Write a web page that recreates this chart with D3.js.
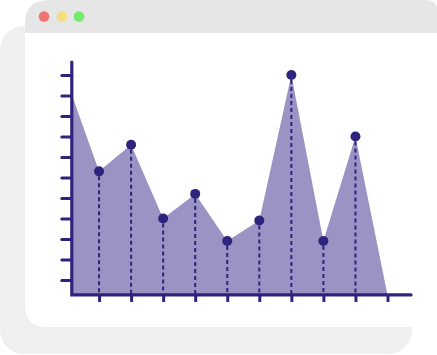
<!DOCTYPE html>
<html>
<head>
<meta charset="utf-8">
<script src="https://cdn.jsdelivr.net/npm/d3@7"></script>
<style>
  html, body { margin: 0; padding: 0; background: #fff; }
  svg { display: block; }
</style>
</head>
<body>
<div id="chart"></div>
<script>
"use strict";

// == DATA ==
var categories = [0, 1, 2, 3, 4, 5, 6, 7, 8, 9, 10];
var values = [10.7, 6.3, 7.6, 4.0, 5.2, 2.9, 3.9, 11.0, 2.9, 8.0, 0.27];
var xTicks = [1, 2, 3, 4, 5, 6, 7, 8, 9, 10];
var yTicks = [1, 2, 3, 4, 5, 6, 7, 8, 9, 10, 11];
var baseValue = 0.27;

// == BOILERPLATE ==
var width = 437, height = 355;
var dark = "#2f247d", fillColor = "#9a93c4";

var svg = d3.select("#chart")
  .append("svg")
  .attr("width", width)
  .attr("height", height);

// browser window frame
svg.append("rect")
  .attr("x", 0).attr("y", 26).attr("width", 412).attr("height", 328)
  .attr("rx", 24).attr("fill", "#efefef");

svg.append("path")
  .attr("d", "M25,327 L25,24 Q25,0 49,0 L427,0 Q437,0 437,10 L437,327 L47,327 Q25,327 25,305 Z")
  .attr("fill", "#fff");
svg.append("path")
  .attr("d", "M25,33 L25,24 Q25,0 49,0 L427,0 Q437,0 437,10 L437,33 Z")
  .attr("fill", "#e6e6e6");

var lights = [["#f07474", 44], ["#f4de7e", 62], ["#74ea6c", 79]];
svg.selectAll("circle.light")
  .data(lights)
  .enter()
  .append("circle")
  .attr("class", "light")
  .attr("cx", function (d) { return d[1]; })
  .attr("cy", 16.5)
  .attr("r", 5.3)
  .attr("fill", function (d) { return d[0]; });

// == SCALES ==
var xScale = d3.scaleLinear().domain([0, 10]).range([67, 387.5]);
var yScale = d3.scaleLinear().domain([0, 11]).range([300.5, 75]);

var axisX = 71.8;
var axisY = yScale(baseValue);
var xEnd = 411;
var yTop = 62;

svg.append("clipPath").attr("id", "plotclip")
  .append("rect")
  .attr("x", axisX).attr("y", 0)
  .attr("width", width).attr("height", height);

var data = categories.map(function (c, i) { return { cat: c, value: values[i] }; });

// == AREA ==
var area = d3.area()
  .x(function (d) { return xScale(d.cat); })
  .y0(axisY)
  .y1(function (d) { return yScale(d.value); });

svg.append("path")
  .datum(data)
  .attr("clip-path", "url(#plotclip)")
  .attr("d", area)
  .attr("fill", fillColor);

var inner = data.slice(1, data.length - 1);

svg.selectAll("line.drop")
  .data(inner)
  .enter()
  .append("line")
  .attr("class", "drop")
  .attr("x1", function (d) { return xScale(d.cat); })
  .attr("x2", function (d) { return xScale(d.cat); })
  .attr("y1", function (d) { return yScale(d.value) + 5; })
  .attr("y2", axisY)
  .attr("stroke", dark)
  .attr("stroke-width", 2)
  .attr("stroke-dasharray", "4,3");

// == AXES ==
var yAxis = d3.axisLeft(yScale).tickValues(yTicks).tickSize(10).tickSizeOuter(0).tickFormat("");
var gy = svg.append("g").attr("transform", "translate(" + axisX + ",0)").call(yAxis);
gy.select(".domain").remove();
gy.selectAll(".tick line").attr("stroke", dark).attr("stroke-width", 3).attr("stroke-linecap", "round");

var xAxis = d3.axisBottom(xScale).tickValues(xTicks).tickSize(7).tickSizeOuter(0).tickFormat("");
var gx = svg.append("g").attr("transform", "translate(0," + axisY + ")").call(xAxis);
gx.select(".domain").remove();
gx.selectAll(".tick line").attr("stroke", dark).attr("stroke-width", 3);

svg.append("path")
  .attr("d", "M" + axisX + "," + yTop + " L" + axisX + "," + axisY + " L" + xEnd + "," + axisY)
  .attr("fill", "none")
  .attr("stroke", dark)
  .attr("stroke-width", 3.2)
  .attr("stroke-linecap", "round")
  .attr("stroke-linejoin", "miter");

// == POINTS ==
svg.selectAll("circle.pt")
  .data(inner)
  .enter()
  .append("circle")
  .attr("class", "pt")
  .attr("cx", function (d) { return xScale(d.cat); })
  .attr("cy", function (d) { return yScale(d.value); })
  .attr("r", 5)
  .attr("fill", dark);
</script>
</body>
</html>
